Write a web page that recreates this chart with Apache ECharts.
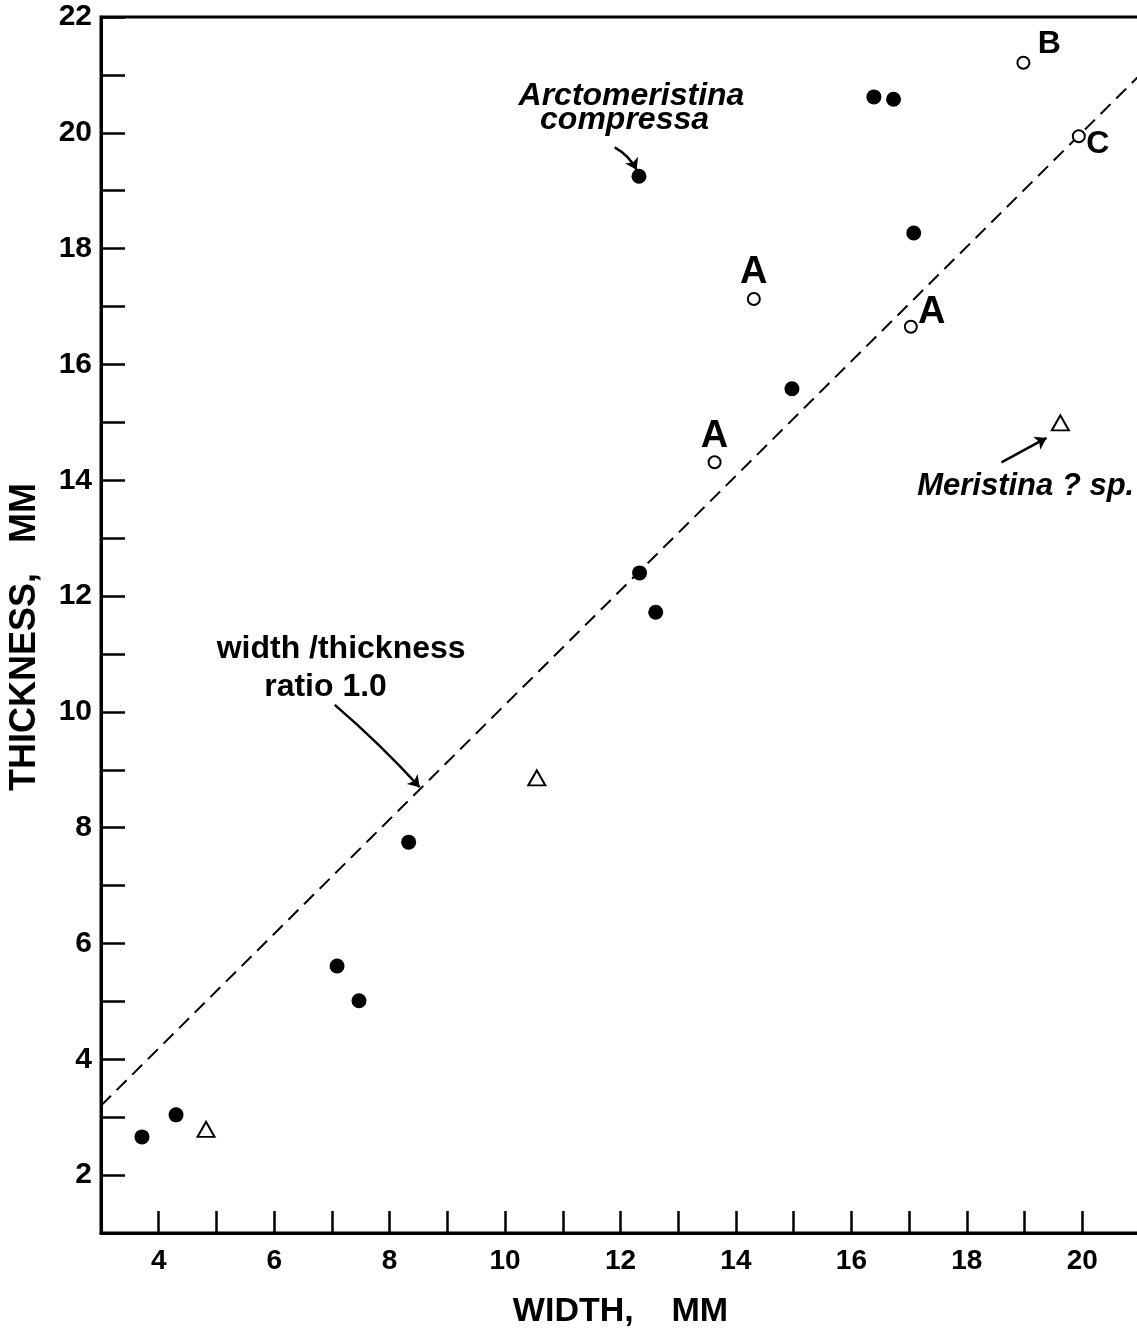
<!DOCTYPE html>
<html>
<head>
<meta charset="utf-8">
<script src="https://cdn.jsdelivr.net/npm/echarts@6/dist/echarts.min.js"></script>
<style>
html,body{margin:0;padding:0;background:#fff;}
#chart{width:1137px;height:1338px;}
</style>
</head>
<body>
<div id="chart"></div>
<script>
// ---- data ----
const xRange = [3, 21];
const yRange = [1, 22];
const filledPts = [[3.71,2.66],[4.30,3.04],[7.09,5.61],[7.47,5.01],[8.33,7.75],[12.33,12.40],[12.61,11.72],[14.97,15.58],[12.32,19.25],[16.39,20.62],[16.73,20.58],[17.08,18.27]];
const openPts = [[14.31,17.13],[13.63,14.31],[17.03,16.65],[18.98,21.21],[19.94,19.94]];
const openLabels = ['A','A','A','B','C'];
const trianglePts = [[4.82,2.79],[10.55,8.86],[19.62,14.99]];
const ratioLine = [[3,3.2],[21,21.0]];
const noteTexts = ['Arctomeristina','compressa','Meristina ? sp.','width /thickness','ratio 1.0'];
const notePos = [[12.19,20.64],[12.07,20.22],[19.02,13.90],[7.16,11.08],[6.89,10.43]];
const arrowCoords = [
  [[11.90,19.75],[12.28,19.36]],
  [[18.60,14.31],[19.38,14.73]],
  [[7.05,10.12],[8.52,8.70]]
];
const xTitle = 'WIDTH,    MM';
const yTitle = 'THICKNESS,   MM';

// ---- styles ----
const boldFont = "'Liberation Sans', Arial, sans-serif";
const narrowFont = "'Liberation Sans Narrow', 'Liberation Sans', Arial, sans-serif";
const openLabelStyle = [
  {offset:[0,-26], fontSize:38},
  {offset:[0,-26], fontSize:38},
  {offset:[21,-14], fontSize:38},
  {offset:[26,-19], fontSize:32},
  {offset:[19,8], fontSize:32}
];
const noteStyle = [
  {fontStyle:'italic', fontSize:32, fontFamily:boldFont},
  {fontStyle:'italic', fontSize:32, fontFamily:boldFont},
  {fontStyle:'italic', fontSize:31, fontFamily:boldFont},
  {fontStyle:'normal', fontSize:32, fontFamily:boldFont},
  {fontStyle:'normal', fontSize:32, fontFamily:boldFont}
];
const arrowCurve = [0.15, 0, 0.03];

const chart = echarts.init(document.getElementById('chart'), null, {renderer:'canvas'});
const axisCommon = {
  axisLine:{show:true, onZero:false, lineStyle:{color:'#000', width:3}},
  axisTick:{show:true, inside:true, lineStyle:{color:'#000', width:2.5}},
  splitLine:{show:false},
  axisLabel:{color:'#000', fontWeight:'bold', fontFamily:boldFont,
    formatter: v => (v % 2 === 0 ? String(v) : '')}
};
chart.setOption({
  backgroundColor:'#fff',
  animation:false,
  grid:{left:101, top:17, width:1039, height:1216, show:true, borderColor:'#000', borderWidth:3,
    backgroundColor:'transparent', containLabel:false, outerBoundsMode:'none'},
  xAxis:Object.assign({}, axisCommon, {
    type:'value', min:xRange[0], max:xRange[1], interval:1,
    axisTick:Object.assign({}, axisCommon.axisTick, {length:22}),
    axisLabel:Object.assign({}, axisCommon.axisLabel, {fontSize:28, margin:14}),
    name:xTitle, nameLocation:'middle', nameGap:62,
    nameTextStyle:{color:'#000', fontWeight:'bold', fontSize:34, fontFamily:narrowFont}
  }),
  yAxis:Object.assign({}, axisCommon, {
    type:'value', min:yRange[0], max:yRange[1], interval:1,
    axisTick:Object.assign({}, axisCommon.axisTick, {length:24}),
    axisLabel:Object.assign({}, axisCommon.axisLabel, {fontSize:30, margin:9}),
    name:yTitle, nameLocation:'middle', nameGap:58,
    nameTextStyle:{color:'#000', fontWeight:'bold', fontSize:36, fontFamily:narrowFont, padding:[0,24,0,0]}
  }),
  series:[
    {
      type:'line', data:ratioLine, showSymbol:false, symbol:'none', silent:true,
      lineStyle:{color:'#000', width:2, type:[14,8], opacity:1}, z:1
    },
    {
      type:'scatter', data:filledPts, symbol:'circle', symbolSize:15,
      itemStyle:{color:'#000', opacity:1}, z:3
    },
    {
      type:'scatter',
      data:openPts.map((p,i)=>({value:p, label:{offset:openLabelStyle[i].offset, fontSize:openLabelStyle[i].fontSize}})),
      symbol:'circle', symbolSize:12,
      itemStyle:{color:'#fff', borderColor:'#000', borderWidth:2, opacity:1}, z:3,
      label:{show:true, position:'inside', color:'#000', fontWeight:'bold', fontFamily:narrowFont,
        formatter: p => openLabels[p.dataIndex]}
    },
    {
      type:'scatter', data:trianglePts, symbol:'triangle', symbolSize:[17,15],
      itemStyle:{color:'#fff', borderColor:'#000', borderWidth:2, opacity:1}, z:3
    },
    {
      type:'scatter', symbolSize:0, silent:true, z:4,
      itemStyle:{opacity:1},
      data:notePos.map((p,i)=>({value:p, label:Object.assign({}, noteStyle[i])})),
      label:{show:true, position:'inside', color:'#000', fontWeight:'bold',
        formatter: p => noteTexts[p.dataIndex]}
    },
    {
      type:'lines', coordinateSystem:'cartesian2d', silent:true, z:4,
      symbol:['none','arrow'], symbolSize:11,
      data:arrowCoords.map((c,i)=>({coords:c, lineStyle:{curveness:arrowCurve[i]}})),
      lineStyle:{color:'#000', width:2.5, opacity:1}
    }
  ]
});
</script>
</body>
</html>
